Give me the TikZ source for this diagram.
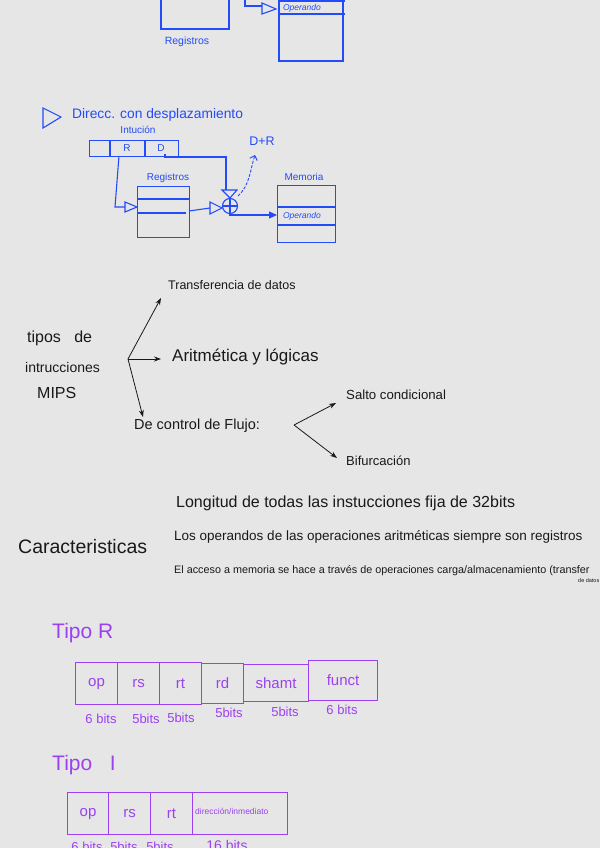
\documentclass[tikz,border=0pt]{standalone}
\usepackage{fontspec}
\setmainfont{Liberation Sans}
\usetikzlibrary{arrows.meta}
\definecolor{bg}{RGB}{230,230,230}
\definecolor{pen}{RGB}{35,75,250}
\definecolor{vio}{RGB}{155,65,240}
\definecolor{ink}{RGB}{25,25,25}
\newcommand{\myfs}[1]{\fontsize{#1}{#1}\selectfont}
\begin{document}
\begin{tikzpicture}[x=1pt,y=-1pt,
  bl/.style={draw=pen, line width=1.1pt},
  bt/.style={text=pen, inner sep=0pt},
  kt/.style={text=ink, inner sep=0pt, anchor=west},
  vt/.style={text=vio, inner sep=0pt},
  vbox/.style={draw=vio, line width=1.1pt, inner sep=0pt},
  ka/.style={draw=ink, line width=0.8pt, -{Stealth[length=7pt,width=5pt]}},
  tri/.style={draw=pen, line width=1.1pt}]
\useasboundingbox (0,0) rectangle (600,848);
\fill[bg] (0,0) rectangle (600,848);
\clip (0,0) rectangle (600,848);

% ---------- top (cut) section ----------
\node[bl, minimum width=68pt, minimum height=40pt, inner sep=0pt] (regtop) at (195,9) {};
\node[bt, font=\myfs{10.5}] (regtoplab) at (187,42) {Registros};
\node[bl, minimum width=64pt, minimum height=72pt, inner sep=0pt] (memtop) at (311,25) {};
\draw[bl] (memtop.west |- 0,1) -- (345,1);
\draw[bl] (memtop.west |- 0,14) -- (345,14);
\node[bt, font=\myfs{8.5}\itshape] (optop) at (302,8) {Operando};
\coordinate (t1) at (245,-3);
\draw[bl] (t1) -- (245,6) -- (262,6);
\draw[tri] (262,3) -- (276,9) -- (262,14) -- cycle;

% ---------- Direcc. con desplazamiento ----------
\draw[tri] (43,108) -- (61,117) -- (43,128) -- cycle;
\node[bt, anchor=west, font=\myfs{13.8}] (dtitle) at (72,115) {Direcc. con desplazamiento};
\node[bt, font=\myfs{10}] (instlab) at (138,130) {Intución};
\node[bl, minimum width=89pt, minimum height=16pt, inner sep=0pt, anchor=north west] (inst) at (89,140) {};
\draw[bl] (110,140) -- (110,156);
\draw[bl] (145,140) -- (145,156);
\node[bt, font=\myfs{10}] (rlab) at (127,148) {R};
\node[bt, font=\myfs{10}] (dlab) at (161,148) {D};

\node[bl, minimum width=52pt, minimum height=51pt, inner sep=0pt, anchor=north west] (regs) at (137,186) {};
\draw[bl] (137,199) -- (189,199);
\draw[bl] (137,213) -- (186,213);
\node[bt, font=\myfs{10}] (regslab) at (168,178) {Registros};

\node[bl, minimum width=58pt, minimum height=57pt, inner sep=0pt, anchor=north west] (mem) at (277,185) {};
\draw[bl] (277,207) -- (335,207);
\draw[bl] (277,225) -- (335,225);
\node[bt, font=\myfs{10}] (memlab) at (304,177) {Memoria};
\node[bt, font=\myfs{8.5}\itshape] (opl) at (302,216) {Operando};

% R -> registros
\draw[bl] (119,156) -- (115,207) -- (125,207);
\draw[tri] (125,202) -- (137,207) -- (125,212) -- cycle;
% registros -> adder
\draw[bl] (189,211) -- (210,208);
\draw[tri] (210,202) -- (222,208) -- (210,214) -- cycle;
\node[bl, circle, minimum size=15pt, inner sep=0pt] (sum) at (230,206) {};
\draw[bl] (sum.north) -- (sum.south) (sum.west) -- (sum.east);
% D -> adder
\draw[bl] (165,154) -- (165,157) -- (226,157) -- (226,190);
\draw[tri] (222,190) -- (237,190) -- (230,198) -- cycle;
% D+R
\node[bt, font=\myfs{12.5}] (dr) at (262,141) {D+R};
\draw[bl, line width=0.9pt, dashed, dash pattern=on 3pt off 1.5pt, -{Straight Barb[length=4pt]}] (238,196) .. controls (250,185) and (250,170) .. (255,155);
% adder -> memoria
\draw[bl, -{Triangle[length=8pt,width=7pt]}] (sum.south) -- (230,215) -- (mem.west |- 0,215);

% ---------- tipos de instrucciones ----------
\node[kt, font=\myfs{16}] (t1a) at (27,338) {tipos\ \ \ de};
\node[kt, font=\myfs{14}] (t1b) at (25,367) {intrucciones};
\node[kt, font=\myfs{16}] (t1c) at (37,393) {MIPS};
\coordinate (o) at (128,359);
\node[kt, font=\myfs{12.5}] (trans) at (168,285) {Transferencia de datos};
\node[kt, font=\myfs{17}] (arit) at (172,357) {Aritmética y lógicas};
\node[kt, font=\myfs{14.5}] (ctrl) at (134,426) {De control de Flujo:};
\node[kt, font=\myfs{13.2}] (salto) at (346,395) {Salto condicional};
\node[kt, font=\myfs{13}] (bif) at (346,461) {Bifurcación};
\draw[ka] (o) -- (161,298);
\draw[ka] (o) -- (161,359);
\draw[ka] (o) -- (143,417);
\coordinate (b) at (294,425);
\draw[ka] (b) -- (336,403);
\draw[ka] (b) -- (337,458);

% ---------- Caracteristicas ----------
\node[kt, font=\myfs{19.5}] (car) at (18,547) {Caracteristicas};
\node[kt, font=\myfs{16}] (c1) at (176,503) {Longitud de todas las instucciones fija de 32bits};
\node[kt, font=\myfs{13.5}] (c2) at (174,537) {Los operandos de las operaciones aritméticas siempre son registros};
\node[kt, font=\myfs{10.8}] (c3) at (174,571) {El acceso a memoria se hace a través de operaciones carga/almacenamiento (transfer};
\node[kt, font=\myfs{5.5}] (c4) at (578,581) {de datos};

% ---------- Tipo R ----------
\node[vt, anchor=west, font=\myfs{21}] (tr) at (52,633) {Tipo R};
\foreach \n/\a/\b/\t/\bo/\lab in {op/75/117/662/704/op, rs/117/159/662/704/rs, rt/159/201/662/704/rt, rd/201/243/663/703/rd, sh/243/308/664/701/shamt, fu/308/377/660/700/funct}{
  \node[vbox, minimum width={\b-\a}, minimum height={\bo-\t}, anchor=north west] (R\n) at (\a,\t) {};
  \node[vt, font=\myfs{15}] at (R\n) {\lab};
}
\node[vt, font=\myfs{13}] (b1) at (101,719) {6 bits};
\node[vt, font=\myfs{13}] (b2) at (146,719) {5bits};
\node[vt, font=\myfs{13}] (b3) at (181,718) {5bits};
\node[vt, font=\myfs{13}] (b4) at (229,713) {5bits};
\node[vt, font=\myfs{13}] (b5) at (285,712) {5bits};
\node[vt, font=\myfs{13}] (b6) at (342,710) {6 bits};

% ---------- Tipo I ----------
\node[vt, anchor=west, font=\myfs{21}] (ti) at (52,765) {Tipo\ \ \ I};
\foreach \n/\a/\b in {op/67/108, rs/108/150, rt/150/192, di/192/287}{
  \node[vbox, minimum width={\b-\a}, minimum height=42pt, anchor=north west] (I\n) at (\a,792) {};
}
\node[vt, font=\myfs{15}] at (Iop) {op};
\node[vt, font=\myfs{15}] at (Irs) {rs};
\node[vt, font=\myfs{15}] at (Irt) {rt};
\node[vt, font=\myfs{8.5}, anchor=west] at (195,811) {dirección/inmediato};
\node[vt, font=\myfs{13}] (i1) at (87,847) {6 bits};
\node[vt, font=\myfs{13}] (i2) at (124,847) {5bits};
\node[vt, font=\myfs{13}] (i3) at (160,847) {5bits};
\node[vt, font=\myfs{14}] (i4) at (227,845) {16 bits};
\end{tikzpicture}
\end{document}
